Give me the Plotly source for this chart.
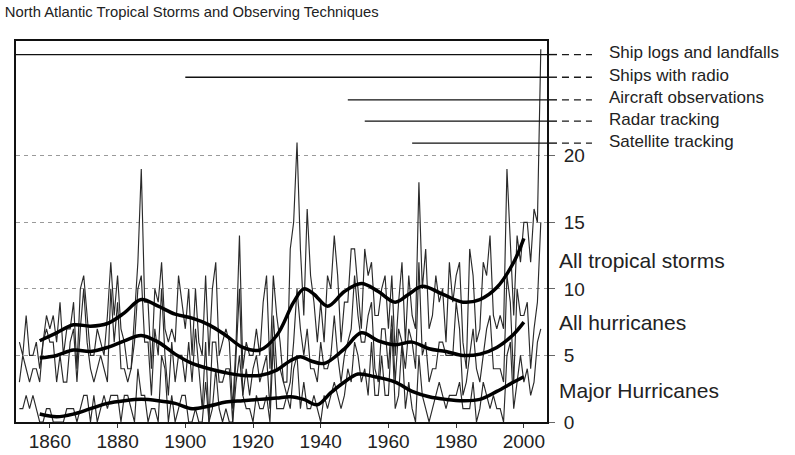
import plotly.graph_objects as go

# Annual counts of North Atlantic storms, 1851-2005
years = list(range(1851, 2006))

storms = [6, 5, 8, 5, 5, 6, 4, 6, 8, 7,
          8, 6, 9, 5, 7, 7, 9, 4, 10, 11,
          8, 5, 5, 7, 6, 5, 8, 12, 8, 11,
          7, 6, 4, 4, 8, 12, 19, 9, 9, 4,
          10, 9, 12, 7, 6, 7, 6, 11, 9, 7,
          10, 5, 10, 6, 5, 11, 5, 10, 12, 5,
          6, 7, 6, 1, 6, 14, 4, 6, 5, 5,
          7, 5, 9, 11, 4, 11, 8, 6, 3, 3,
          13, 15, 21, 13, 8, 16, 11, 9, 6, 9,
          6, 11, 10, 14, 11, 6, 9, 9, 13, 13,
          10, 7, 13, 11, 12, 8, 8, 10, 11, 7,
          11, 5, 9, 12, 6, 11, 8, 7, 18, 10,
          13, 7, 8, 11, 9, 10, 6, 12, 9, 11,
          12, 6, 4, 13, 11, 6, 7, 12, 11, 14,
          8, 7, 8, 7, 19, 13, 8, 14, 12, 15,
          15, 12, 16, 15, 28]

hurricanes = [3, 5, 4, 3, 4, 4, 3, 6, 7, 6,
              6, 3, 5, 3, 3, 6, 7, 3, 7, 10,
              6, 4, 3, 4, 5, 4, 3, 10, 6, 9,
              4, 4, 3, 4, 6, 10, 11, 6, 6, 2,
              7, 5, 10, 5, 2, 6, 3, 5, 5, 3,
              6, 3, 7, 4, 1, 6, 0, 6, 6, 3,
              3, 4, 4, 0, 5, 10, 2, 4, 2, 4,
              5, 3, 4, 5, 1, 8, 4, 4, 3, 2,
              3, 6, 10, 7, 5, 7, 4, 4, 3, 6,
              4, 4, 5, 8, 5, 3, 5, 6, 7, 11,
              8, 6, 6, 8, 9, 4, 3, 7, 7, 4,
              8, 3, 7, 6, 4, 7, 6, 4, 12, 5,
              6, 3, 4, 4, 6, 6, 5, 5, 5, 9,
              7, 2, 3, 5, 7, 4, 3, 5, 7, 8,
              4, 4, 4, 3, 11, 9, 3, 10, 8, 8,
              9, 4, 7, 9, 15]

major_hurricanes = [1, 1, 2, 1, 2, 1, 0, 0, 1, 1,
                    0, 0, 0, 0, 1, 1, 1, 0, 1, 2,
                    2, 0, 2, 0, 1, 2, 1, 2, 2, 2,
                    0, 2, 2, 1, 0, 4, 2, 2, 0, 1,
                    1, 0, 5, 4, 0, 2, 0, 1, 2, 2,
                    0, 0, 1, 0, 0, 3, 0, 1, 4, 1,
                    0, 1, 0, 0, 3, 5, 2, 1, 1, 0,
                    2, 1, 1, 2, 0, 6, 1, 1, 1, 2,
                    1, 4, 5, 1, 3, 1, 1, 2, 1, 0,
                    2, 1, 2, 3, 2, 1, 2, 4, 3, 6,
                    5, 3, 4, 2, 6, 2, 2, 5, 2, 2,
                    7, 1, 2, 6, 1, 3, 1, 0, 5, 2,
                    1, 0, 1, 2, 3, 2, 1, 2, 2, 2,
                    3, 1, 1, 1, 3, 0, 1, 3, 2, 1,
                    2, 1, 1, 0, 5, 6, 1, 3, 5, 3,
                    4, 2, 3, 6, 7]

# Smoothed (low-pass) curves of the three series
storms_smooth_years = [1857, 1862, 1867, 1872, 1877, 1882, 1887, 1892, 1897, 1902,
                       1907, 1912, 1917, 1922, 1927, 1932, 1935, 1938, 1942, 1947,
                       1952, 1957, 1962, 1966, 1970, 1976, 1982, 1987, 1992, 1997, 2000]
storms_smooth = [6.1, 6.7, 7.3, 7.2, 7.4, 8.2, 9.2, 8.7, 8.1, 7.8,
                 7.3, 6.5, 5.6, 5.4, 6.5, 9.0, 10.0, 9.6, 8.7, 9.8,
                 10.4, 9.8, 9.0, 9.6, 10.2, 9.6, 9.0, 9.2, 10.1, 12.0, 13.8]

hurr_smooth_years = [1857, 1862, 1867, 1872, 1877, 1882, 1887, 1892, 1897, 1902,
                     1907, 1912, 1917, 1922, 1927, 1931, 1934, 1937, 1941, 1947,
                     1952, 1957, 1962, 1967, 1972, 1977, 1982, 1987, 1992, 1997, 2000]
hurr_smooth = [4.8, 5.0, 5.4, 5.3, 5.6, 6.1, 6.5, 6.0, 5.1, 4.4,
               4.0, 3.7, 3.5, 3.5, 3.9, 4.6, 4.9, 4.6, 4.4, 5.5,
               6.7, 6.1, 5.8, 6.0, 5.5, 5.3, 5.0, 5.1, 5.6, 6.6, 7.5]

major_smooth_years = [1857, 1862, 1867, 1872, 1877, 1882, 1887, 1892, 1897, 1902,
                      1907, 1912, 1917, 1922, 1927, 1931, 1935, 1939, 1943, 1947,
                      1951, 1956, 1962, 1967, 1972, 1977, 1982, 1987, 1992, 1997, 2000]
major_smooth = [0.6, 0.4, 0.6, 1.0, 1.4, 1.6, 1.7, 1.6, 1.4, 1.0,
                1.2, 1.5, 1.6, 1.7, 1.8, 1.9, 1.7, 1.3, 2.2, 3.0,
                3.6, 3.4, 3.0, 2.3, 1.9, 1.7, 1.6, 1.7, 2.3, 3.0, 3.4]

# Observing techniques: start year and label
technique_names = ["Ship logs and landfalls", "Ships with radio", "Aircraft observations",
                   "Radar tracking", "Satellite tracking"]
technique_start = [1850, 1900, 1948, 1953, 1967]
technique_level = [27.6, 25.9, 24.2, 22.6, 20.95]

series_labels = ["All tropical storms", "All hurricanes", "Major Hurricanes"]
series_label_y = [12.15, 7.5, 2.4]

y_ticks = [0, 5, 10, 15, 20]
x_ticks = [1860, 1880, 1900, 1920, 1940, 1960, 1980, 2000]

X_MAX = 2006.83
Y_MAX = 28.62
FONT = "Liberation Sans, Arial, Helvetica"

fig = go.Figure()

thin = dict(color="#2a2a2a", width=1.15)
for ys in (storms, hurricanes, major_hurricanes):
    fig.add_trace(go.Scatter(x=years, y=ys, mode="lines", line=thin,
                             hoverinfo="skip", showlegend=False))

thick = dict(color="#000000", width=3.5, shape="spline", smoothing=1.0)
for xs, ys in ((storms_smooth_years, storms_smooth),
               (hurr_smooth_years, hurr_smooth),
               (major_smooth_years, major_smooth)):
    fig.add_trace(go.Scatter(x=xs, y=ys, mode="lines", line=thick,
                             hoverinfo="skip", showlegend=False))

shapes = []
annotations = []
for name, start, lvl in zip(technique_names, technique_start, technique_level):
    # solid bar from the first year of the technique to the right edge
    shapes.append(dict(type="line", xref="x", yref="y", x0=start, x1=X_MAX,
                       y0=lvl, y1=lvl, line=dict(color="#111111", width=1.4)))
    shapes.append(dict(type="line", xref="paper", yref="y", x0=1.0, x1=1.0188,
                       y0=lvl, y1=lvl, line=dict(color="#111111", width=1.4)))
    # dashed leader to the label
    shapes.append(dict(type="line", xref="paper", yref="y", x0=1.0282, x1=1.0847,
                       y0=lvl, y1=lvl,
                       line=dict(color="#1a1a1a", width=1.4, dash="7px,5px")))
    annotations.append(dict(text=name, xref="paper", yref="y", x=1.113, y=lvl,
                            xanchor="left", yanchor="middle", yshift=2,
                            showarrow=False,
                            font=dict(family=FONT, size=17, color="#222222")))

for name, yv in zip(series_labels, series_label_y):
    annotations.append(dict(text=name, xref="paper", yref="y", x=1.0188, y=yv,
                            xanchor="left", yanchor="middle", showarrow=False,
                            font=dict(family=FONT, size=21, color="#222222")))

fig.update_layout(
    width=795, height=455,
    margin=dict(l=16, r=248, t=41, b=33, pad=0, autoexpand=False),
    paper_bgcolor="white", plot_bgcolor="white",
    font=dict(family=FONT, color="#222222"),
    title=dict(text="North Atlantic Tropical Storms and Observing Techniques",
               x=0.006, xanchor="left", y=0.974, yanchor="middle",
               font=dict(size=14.8, color="#222222")),
    shapes=shapes, annotations=annotations,
    xaxis=dict(range=[1850, X_MAX], tickvals=x_ticks, ticks="outside", ticklen=4,
               tickcolor="#333333", showgrid=False, zeroline=False, automargin=False,
               ticklabelstandoff=-3,
               showline=True, linecolor="#111111", linewidth=2, mirror=True,
               tickfont=dict(size=19, color="#222222")),
    yaxis=dict(range=[0, Y_MAX], side="right", tickvals=y_ticks, ticks="outside",
               ticklen=6, tickcolor="#666666", ticklabelstandoff=5, automargin=False,
               showgrid=True, gridcolor="#9a9a9a", gridwidth=1, griddash="4px,4px",
               zeroline=False, showline=True, linecolor="#111111", linewidth=2,
               mirror=True, tickfont=dict(size=19, color="#222222")),
)

fig.write_html("out.html")
